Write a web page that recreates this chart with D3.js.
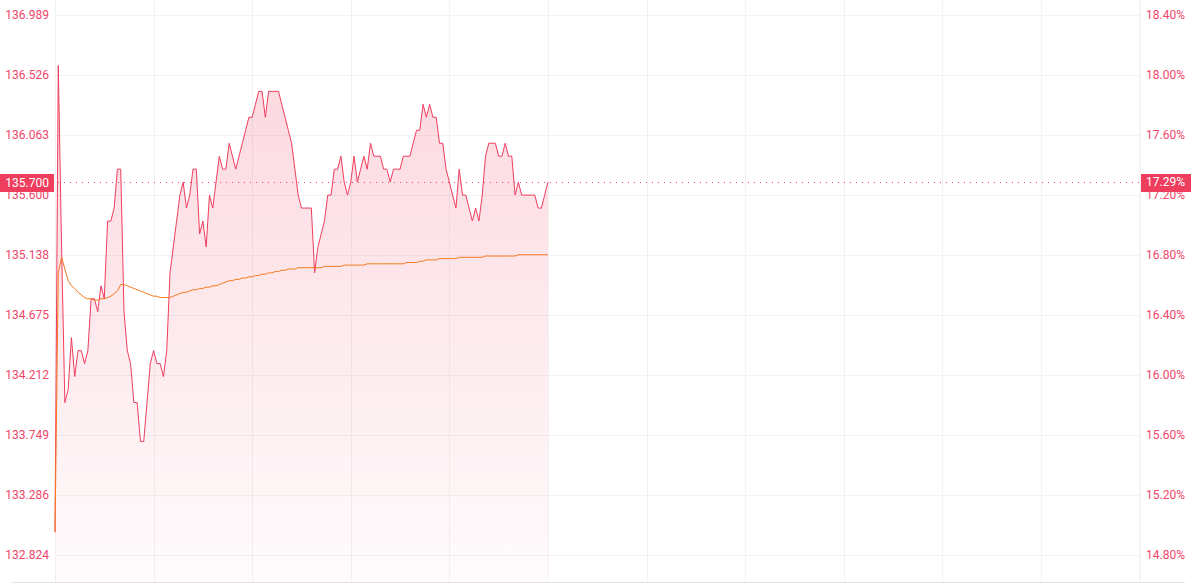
<!DOCTYPE html>
<html><head><meta charset="utf-8">
<script src="https://cdn.jsdelivr.net/npm/d3@7"></script>
<style>html,body{margin:0;padding:0;background:#fff;overflow:hidden}svg{display:block}</style>
</head><body><svg id="c" width="1198" height="585"></svg>
<script>
const priceTicks = ["132.824","133.286","133.749","134.212","134.675","135.138","135.600","136.063","136.526","136.989"];
const pctTicks = ["14.80","15.20","15.60","16.00","16.40","16.80","17.20","17.60","18.00","18.40"];
const xGridMinutes = [0,30,60,90,120,150,180,210,240,270,300,330];
const price = [
133.0,136.6,135.2,134.0,134.1,134.5,134.2,134.4,134.4,134.3,
134.4,134.8,134.8,134.7,134.9,134.8,135.4,135.4,135.5,135.8,
135.8,134.7,134.4,134.3,134.0,134.0,133.7,133.7,134.0,134.3,
134.4,134.3,134.3,134.2,134.4,135.0,135.2,135.4,135.6,135.7,
135.5,135.6,135.8,135.8,135.3,135.4,135.2,135.6,135.5,135.7,
135.9,135.8,135.8,136.0,135.9,135.8,135.9,136.0,136.1,136.2,
136.2,136.3,136.4,136.4,136.2,136.4,136.4,136.4,136.4,136.3,
136.2,136.1,136.0,135.8,135.6,135.5,135.5,135.5,135.5,135.0,
135.2,135.3,135.4,135.6,135.6,135.8,135.8,135.9,135.7,135.6,
135.7,135.9,135.7,135.8,135.9,135.8,136.0,135.9,135.9,135.9,
135.8,135.8,135.7,135.8,135.8,135.8,135.9,135.9,135.9,136.0,
136.1,136.1,136.3,136.2,136.3,136.2,136.2,136.0,136.0,135.8,
135.7,135.6,135.5,135.8,135.6,135.6,135.5,135.4,135.5,135.4,
135.6,135.9,136.0,136.0,136.0,135.9,135.9,136.0,135.9,135.9,
135.6,135.7,135.6,135.6,135.6,135.6,135.6,135.5,135.5,135.6,
135.7];
const avg = [
133.00,135.00,135.12,135.03,134.94,134.90,134.88,134.85,134.83,134.81,
134.80,134.80,134.79,134.79,134.80,134.80,134.81,134.82,134.84,134.86,
134.91,134.91,134.90,134.89,134.88,134.87,134.86,134.85,134.84,134.83,
134.82,134.82,134.81,134.81,134.81,134.81,134.82,134.83,134.84,134.85,
134.85,134.86,134.87,134.87,134.88,134.88,134.89,134.89,134.90,134.90,
134.91,134.92,134.93,134.94,134.94,134.95,134.95,134.96,134.96,134.97,
134.97,134.98,134.98,134.99,134.99,135.00,135.00,135.01,135.01,135.02,
135.02,135.03,135.03,135.03,135.04,135.04,135.04,135.04,135.04,135.04,
135.04,135.04,135.05,135.05,135.05,135.05,135.05,135.05,135.06,135.06,
135.06,135.06,135.06,135.06,135.06,135.07,135.07,135.07,135.07,135.07,
135.07,135.07,135.07,135.07,135.07,135.07,135.07,135.08,135.08,135.08,
135.08,135.09,135.09,135.10,135.10,135.10,135.10,135.11,135.11,135.11,
135.11,135.11,135.11,135.12,135.12,135.12,135.12,135.12,135.12,135.12,
135.12,135.13,135.13,135.13,135.13,135.13,135.13,135.13,135.13,135.13,
135.13,135.14,135.14,135.14,135.14,135.14,135.14,135.14,135.14,135.14,
135.14];
const lastPrice = "135.700";
const lastPct = "17.29";

const svg = d3.select("#c");
const L = 55, R = 1139.5, TOP = 0, BOT = 582;
const x = d3.scaleLinear().domain([0, 330]).range([L, R]);
const y = d3.scaleLinear().domain([+priceTicks[0], +priceTicks[priceTicks.length-1]]).range([555, 15]);
const yp = d3.scaleLinear().domain([+pctTicks[0], +pctTicks[pctTicks.length-1]]).range([555, 15]);
const red = "#ef3d5e", txt = "#f0466a", orange = "#f5791f";
const font = "Roboto, 'Noto Sans', sans-serif";

// grid
svg.append("g").selectAll("line").data(priceTicks).join("line")
  .attr("x1", L).attr("x2", R).attr("y1", d => Math.round(y(+d)) + 0.5).attr("y2", d => Math.round(y(+d)) + 0.5)
  .attr("stroke", "#f2f2f2").attr("stroke-width", 1);
svg.append("g").selectAll("line").data(xGridMinutes).join("line")
  .attr("x1", d => Math.round(x(d)) + 0.5).attr("x2", d => Math.round(x(d)) + 0.5).attr("y1", TOP).attr("y2", BOT)
  .attr("stroke", "#f2f2f2").attr("stroke-width", 1);
svg.append("line").attr("x1", 11).attr("x2", 1185).attr("y1", BOT + 0.5).attr("y2", BOT + 0.5)
  .attr("stroke", "#e4e4e4");

// gradient
const defs = svg.append("defs");
const g = defs.append("linearGradient").attr("id", "fillg").attr("gradientUnits", "userSpaceOnUse")
  .attr("x1", 0).attr("x2", 0).attr("y1", y(d3.max(price))).attr("y2", BOT);
g.append("stop").attr("offset", 0).attr("stop-color", red).attr("stop-opacity", 0.2);
g.append("stop").attr("offset", 1).attr("stop-color", red).attr("stop-opacity", 0.02);

const area = d3.area().x((d, i) => x(i)).y0(BOT).y1(d => y(d));
const line = d3.line().x((d, i) => x(i)).y(d => y(d));
svg.append("path").datum(price).attr("d", area).attr("fill", "url(#fillg)");
svg.append("path").datum(price).attr("d", line).attr("fill", "none").attr("stroke", red).attr("stroke-width", 1);
svg.append("path").datum(avg).attr("d", line).attr("fill", "none").attr("stroke", orange).attr("stroke-width", 1);

// dotted last price line
const ly = Math.round(y(+lastPrice)) + 0.5;
svg.append("line").attr("x1", L + 3).attr("x2", R).attr("y1", ly).attr("y2", ly)
  .attr("stroke", txt).attr("stroke-width", 1).attr("stroke-dasharray", "1,5");

// labels
svg.append("g").selectAll("text").data(priceTicks).join("text")
  .attr("x", 49).attr("y", d => y(+d)).attr("text-anchor", "end").attr("dominant-baseline", "central")
  .attr("font-family", font).attr("font-size", 12).attr("fill", txt).text(d => d);
svg.append("g").selectAll("text").data(pctTicks).join("text")
  .attr("x", 1146).attr("y", d => yp(+d)).attr("text-anchor", "start").attr("dominant-baseline", "central")
  .attr("font-family", font).attr("font-size", 12).attr("fill", txt).text(d => d + "%");
svg.append("line").attr("x1", R + 0.5).attr("x2", R + 0.5).attr("y1", TOP).attr("y2", BOT).attr("stroke", "#f0f0f0");

// last value boxes
svg.append("rect").attr("x", 0).attr("y", ly - 8.5).attr("width", 54).attr("height", 18).attr("fill", red);
svg.append("text").attr("x", 49).attr("y", ly).attr("text-anchor", "end").attr("dominant-baseline", "central")
  .attr("font-family", font).attr("font-size", 12).attr("fill", "#fff").text(lastPrice);
svg.append("rect").attr("x", 1141).attr("y", ly - 8.5).attr("width", 50).attr("height", 18).attr("fill", red);
svg.append("text").attr("x", 1146).attr("y", yp(+lastPct)).attr("text-anchor", "start").attr("dominant-baseline", "central")
  .attr("font-family", font).attr("font-size", 12).attr("fill", "#fff").text(lastPct + "%");
</script></body></html>
